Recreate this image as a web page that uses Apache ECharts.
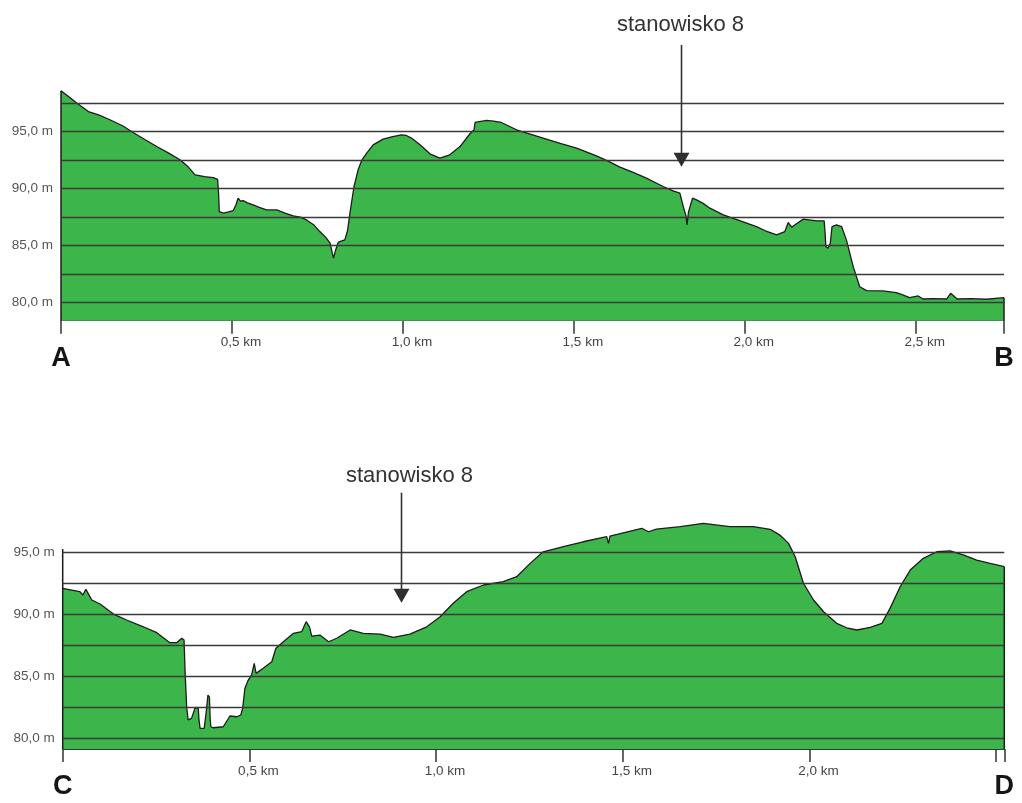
<!DOCTYPE html>
<html>
<head>
<meta charset="utf-8">
<script src="https://cdn.jsdelivr.net/npm/echarts@6/dist/echarts.min.js"></script>
<style>
html,body{margin:0;padding:0;background:#fff;}
#c{width:1022px;height:803px;}
</style>
</head>
<body>
<div id="c"></div>
<script>
// ---- Profile A-B ----
const abKm = [0,0.02,0.046,0.08,0.11,0.143,0.18,0.211,0.245,0.28,0.315,0.348,0.372,0.392,0.42,0.445,0.458,0.461,0.463,0.475,0.49,0.504,0.512,0.518,0.525,0.533,0.545,0.562,0.58,0.601,0.631,0.655,0.679,0.7,0.718,0.74,0.757,0.775,0.787,0.793,0.797,0.803,0.811,0.83,0.838,0.845,0.857,0.869,0.88,0.894,0.913,0.942,0.97,0.996,1.01,1.025,1.05,1.079,1.108,1.137,1.167,1.196,1.208,1.211,1.245,1.265,1.288,1.332,1.37,1.41,1.46,1.508,1.566,1.6,1.635,1.675,1.712,1.761,1.79,1.81,1.82,1.828,1.831,1.835,1.837,1.847,1.859,1.878,1.898,1.937,1.985,2.034,2.06,2.093,2.117,2.127,2.137,2.15,2.171,2.21,2.232,2.235,2.237,2.243,2.25,2.255,2.268,2.283,2.297,2.317,2.336,2.356,2.404,2.443,2.46,2.482,2.507,2.521,2.55,2.59,2.602,2.621,2.66,2.707,2.758];
const abM  = [98.57,98.1,97.49,96.75,96.45,96.03,95.5,94.91,94.3,93.68,93.1,92.52,91.9,91.2,91.05,90.96,90.8,89.5,87.98,87.84,87.95,88.07,88.6,89.16,88.9,88.95,88.75,88.57,88.35,88.13,88.13,87.85,87.6,87.5,87.25,86.8,86.23,85.7,85.21,84.4,83.9,84.6,85.3,85.5,86.3,87.84,90.18,91.64,92.5,93.1,93.83,94.33,94.55,94.71,94.65,94.42,93.83,93.04,92.66,92.96,93.68,94.8,95.15,95.79,95.97,95.9,95.79,95.15,94.8,94.42,93.95,93.54,92.87,92.4,91.88,91.4,90.91,90.18,89.8,89.6,88.42,87.6,86.82,87.9,88.13,89.16,89.01,88.7,88.28,87.69,87.19,86.67,86.3,85.94,86.23,87.02,86.61,86.9,87.32,87.17,87.17,86.0,84.91,84.77,85.21,86.67,86.82,86.67,85.5,83.16,81.4,81.05,81.03,80.88,80.7,80.44,80.59,80.32,80.35,80.32,80.82,80.32,80.35,80.3,80.44];

// ---- Profile C-D ----
const cdKm = [0,0.024,0.046,0.054,0.062,0.078,0.1,0.136,0.171,0.216,0.252,0.287,0.305,0.319,0.325,0.328,0.332,0.336,0.345,0.354,0.363,0.365,0.368,0.379,0.384,0.389,0.393,0.395,0.397,0.403,0.43,0.448,0.466,0.477,0.482,0.488,0.497,0.506,0.511,0.513,0.518,0.537,0.56,0.571,0.591,0.618,0.64,0.652,0.661,0.667,0.689,0.712,0.734,0.77,0.805,0.85,0.886,0.93,0.975,1.011,1.046,1.082,1.127,1.18,1.216,1.252,1.287,1.341,1.394,1.457,1.462,1.466,1.551,1.569,1.59,1.654,1.716,1.787,1.85,1.895,1.921,1.944,1.962,1.984,2.011,2.038,2.073,2.1,2.127,2.163,2.194,2.216,2.243,2.27,2.305,2.341,2.377,2.412,2.448,2.484,2.522];
const cdM  = [92.11,91.97,91.84,91.57,92.03,91.17,90.84,90.03,89.55,89.0,88.52,87.71,87.71,88.07,87.93,85.23,82.53,81.46,81.59,82.4,82.48,81.5,80.78,80.78,82.0,83.48,83.3,81.5,80.91,80.83,80.91,81.78,81.72,81.86,82.4,84.02,84.69,85.1,85.2,86.04,85.23,85.64,86.17,87.26,87.79,88.47,88.6,89.41,89.0,88.25,88.33,87.79,88.07,88.74,88.47,88.41,88.15,88.41,89.0,89.81,90.9,91.84,92.38,92.65,93.05,94.13,95.07,95.48,95.88,96.29,95.75,96.34,96.97,96.69,96.9,97.1,97.37,97.1,97.1,96.89,96.42,95.75,94.67,92.52,91.17,90.22,89.28,88.92,88.74,88.96,89.28,90.49,92.24,93.59,94.54,95.07,95.15,94.81,94.4,94.13,93.86];

// axis ranges and ticks
const abRange = [78.42, 98.6];
const cdRange = [79.11, 97.6];
const abGridLevels = [80, 82.5, 85, 87.5, 90, 92.5, 95, 97.5];
const cdGridLevels = [80, 82.5, 85, 87.5, 90, 92.5, 95];
const yLabelValues = [80, 85, 90, 95];
const abTicks = [0, 0.5, 1.0, 1.5, 2.0, 2.5, 2.758];
const abLabels = [0.5, 1.0, 1.5, 2.0, 2.5];
const cdTicks = [0, 0.5, 1.0, 1.5, 2.0, 2.5, 2.522];
const cdLabels = [0.5, 1.0, 1.5, 2.0];
const abEnds = ['A', 'B'];
const cdEnds = ['C', 'D'];
const cdLeftTop = 95.3;
// site markers: [km, elevation at arrow tip]
const abSite = [1.813, 91.9];
const cdSite = [0.905, 90.95];
const siteName = 'stanowisko 8';

const GREEN = '#3cb54a';
const LINE = '#1c1c1c';
const GRIDC = '#3a3a3a';
const NARROW = "'Liberation Sans Narrow','Arial Narrow','Liberation Sans',Arial,sans-serif";
const SANS = "'Liberation Sans',Arial,sans-serif";

const zip = (a, b) => a.map((v, i) => [v, b[i]]);
const kmFmt = v => v.toFixed(1).replace('.', ',') + ' km';
const mFmt = v => v.toFixed(1).replace('.', ',') + ' m';

function makeX(gi, ticks, labels, max) {
  return {
    type: 'value', gridIndex: gi, min: 0, max: max, position: 'bottom',
    axisLine: { show: true, onZero: false, lineStyle: { color: GRIDC, width: 1.2 } },
    axisTick: { show: true, customValues: ticks, length: 13, lineStyle: { color: '#333', width: 1.5 } },
    axisLabel: { show: true, customValues: labels, formatter: kmFmt, margin: 15, padding: [0, 0, 0, 18],
      fontFamily: NARROW, fontSize: 13.5, color: '#444' },
    splitLine: { show: false }
  };
}
function makeEndX(gi, max, names) {
  return {
    type: 'value', gridIndex: gi, min: 0, max: max, position: 'bottom', offset: 0,
    axisLine: { show: false, onZero: false }, axisTick: { show: false },
    axisLabel: { show: true, customValues: [0, max], formatter: v => (v === 0 ? names[0] : names[1]),
      margin: 38, verticalAlign: 'middle', fontFamily: SANS, fontWeight: 'bold', fontSize: 27, color: '#151515' },
    splitLine: { show: false }
  };
}
function makeY(gi, range) {
  return {
    type: 'value', gridIndex: gi, min: range[0], max: range[1],
    axisLine: { show: false }, axisTick: { show: false }, splitLine: { show: false },
    axisLabel: { show: true, customValues: yLabelValues, formatter: mFmt, margin: 8,
      fontFamily: NARROW, fontSize: 13.5, color: '#555' }
  };
}
function terrain(xi, km, m, levels) {
  return {
    type: 'line', xAxisIndex: xi, yAxisIndex: xi / 2, data: zip(km, m),
    showSymbol: false, symbol: 'none', silent: true, z: 2,
    lineStyle: { color: LINE, width: 1.3 },
    areaStyle: { color: GREEN, opacity: 1, origin: 'start' },
    markLine: {
      silent: true, symbol: 'none', animation: false,
      lineStyle: { color: GRIDC, width: 1.3, type: 'solid' },
      label: { show: false },
      data: levels.map(v => ({ yAxis: v }))
    }
  };
}
function edge(xi, pts) {
  return {
    type: 'line', xAxisIndex: xi, yAxisIndex: xi / 2, data: pts, showSymbol: false, symbol: 'none',
    silent: true, z: 4, lineStyle: { color: LINE, width: 1.5 }
  };
}

const abMax = abKm[abKm.length - 1];
const cdMax = cdKm[cdKm.length - 1];

const chart = echarts.init(document.getElementById('c'), null, { renderer: 'canvas' });
chart.setOption({
  animation: false,
  backgroundColor: '#ffffff',
  grid: [
    { left: 61, right: 18, top: 90.4, height: 230.3 },
    { left: 62.7, right: 17.7, top: 520.5, height: 228.5 }
  ],
  xAxis: [
    makeX(0, abTicks, abLabels, abMax),
    makeEndX(0, abMax, abEnds),
    makeX(1, cdTicks, cdLabels, cdMax),
    makeEndX(1, cdMax, cdEnds)
  ],
  yAxis: [makeY(0, abRange), makeY(1, cdRange)],
  series: [
    terrain(0, abKm, abM, abGridLevels),
    edge(0, [[0, abM[0]], [0, abRange[0]]]),
    edge(0, [[abMax, abM[abM.length - 1]], [abMax, abRange[0]]]),
    terrain(2, cdKm, cdM, cdGridLevels),
    edge(2, [[0, cdLeftTop], [0, cdRange[0]]]),
    edge(2, [[cdMax, cdM[cdM.length - 1]], [cdMax, cdRange[0]]])
  ]
});

function arrow(gridIndex, site, len, dx, textGap) {
  const p = chart.convertToPixel({ gridIndex: gridIndex }, site);
  const x = Math.round(p[0]) + 0.5, y = p[1];
  return [
    { type: 'line', shape: { x1: x, y1: y - len, x2: x, y2: y - 12 }, style: { stroke: '#333', lineWidth: 1.6 }, z: 10 },
    { type: 'polygon', shape: { points: [[x - 8, y - 14], [x + 8, y - 14], [x, y]] }, style: { fill: '#2e2e2e' }, z: 10 },
    { type: 'text', x: x + dx, y: y - len - textGap,
      style: { text: siteName, font: "22px " + SANS, fill: '#333', align: 'center', verticalAlign: 'middle' }, z: 10 }
  ];
}
chart.setOption({
  graphic: [].concat(arrow(0, abSite, 122, -1, 20), arrow(1, cdSite, 110, 8, 17))
});
</script>
</body>
</html>
